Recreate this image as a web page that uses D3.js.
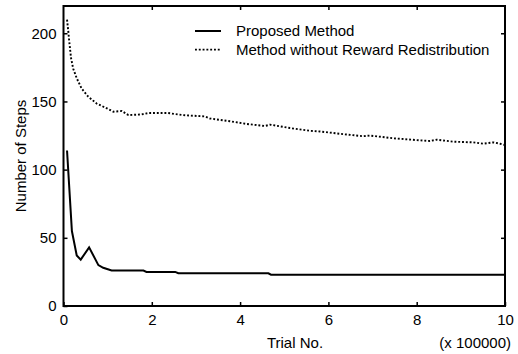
<!DOCTYPE html>
<html>
<head>
<meta charset="utf-8">
<script src="https://cdn.jsdelivr.net/npm/d3@7"></script>
<style>
  body { margin: 0; background: #fff; }
  svg { display: block; font-family: "Liberation Sans", Arial, sans-serif; }
</style>
</head>
<body>
<div id="container"></div>
<script>
// ==================== data ==================== //

// trial number in units of 100000
const proposedX = [0.08, 0.19, 0.30, 0.39, 0.58, 0.79, 0.90, 1.09, 1.81, 1.88, 2.53, 2.60, 4.64, 4.70, 10];
const proposedY = [114, 55, 37, 34, 43, 30, 28, 26, 26, 25, 25, 24, 24, 23, 23];

const noRedistX = [0.08, 0.11, 0.13, 0.17, 0.22, 0.30, 0.41, 0.56, 0.75, 0.98, 1.13, 1.32, 1.47, 1.77, 1.92,
  2.37, 2.71, 3.20, 3.32, 3.77, 4.15, 4.56, 4.68, 5.13, 5.58, 5.81, 6.34, 6.79, 6.94, 7.47,
  8.07, 8.30, 8.45, 8.83, 9.28, 9.51, 9.74, 9.89, 10];
const noRedistY = [210, 201, 194, 182, 174, 167, 159.5, 153.5, 148.5, 145, 142.5, 143, 140, 140.5, 141.5,
  141.5, 140, 139, 137.5, 135.5, 133.5, 132, 133, 130.5, 128.5, 128, 126, 124.5, 125, 123,
  121.5, 121, 122, 120.5, 120, 119, 120, 119, 118];

const xTicks = [0, 2, 4, 6, 8, 10];
const yTicks = [0, 50, 100, 150, 200];
const seriesNames = ["Proposed Method", "Method without Reward Redistribution"];

// ==================== chart ==================== //

const width = 518, height = 354;
const margin = { left: 63.5, right: 13, top: 6, bottom: 48 };
const fontSize = "15px";

const svg = d3.select("#container").append("svg")
  .attr("width", width)
  .attr("height", height);

const x = d3.scaleLinear().domain([0, 10]).range([margin.left, width - margin.right]);
const y = d3.scaleLinear().domain([0, 220]).range([height - margin.bottom, margin.top]);

const tickLen = 4;

// inward ticks on all four sides
svg.append("g")
  .attr("transform", `translate(0,${y(0)})`)
  .call(d3.axisBottom(x).tickValues(xTicks).tickSizeInner(-tickLen).tickSizeOuter(0).tickPadding(8))
  .call(g => g.select(".domain").remove());

svg.append("g")
  .attr("transform", `translate(0,${y(220)})`)
  .call(d3.axisTop(x).tickValues(xTicks.slice(1, -1)).tickSizeInner(-tickLen).tickSizeOuter(0).tickFormat(""))
  .call(g => g.select(".domain").remove());

svg.append("g")
  .attr("transform", `translate(${x(0)},0)`)
  .call(d3.axisLeft(y).tickValues(yTicks).tickSizeInner(-tickLen).tickSizeOuter(0).tickPadding(7))
  .call(g => g.select(".domain").remove());

svg.append("g")
  .attr("transform", `translate(${x(10)},0)`)
  .call(d3.axisRight(y).tickValues(yTicks.slice(1)).tickSizeInner(-tickLen).tickSizeOuter(0).tickFormat(""))
  .call(g => g.select(".domain").remove());

svg.selectAll(".tick line").attr("stroke", "#000").attr("stroke-width", 1.5);
svg.selectAll(".tick text")
  .attr("fill", "#000")
  .style("font-size", fontSize)
  .style("font-family", "Liberation Sans, Arial, sans-serif");

// frame
svg.append("rect")
  .attr("x", x(0))
  .attr("y", y(220))
  .attr("width", x(10) - x(0))
  .attr("height", y(0) - y(220))
  .attr("fill", "none")
  .attr("stroke", "#000")
  .attr("stroke-width", 2);

// lines
const line = d3.line().x(d => x(d[0])).y(d => y(d[1]));

svg.append("path")
  .datum(noRedistX.map((v, i) => [v, noRedistY[i]]))
  .attr("d", line)
  .attr("fill", "none")
  .attr("stroke", "#000")
  .attr("stroke-width", 1.9)
  .attr("stroke-dasharray", "1.9,1.9");

svg.append("path")
  .datum(proposedX.map((v, i) => [v, proposedY[i]]))
  .attr("d", line)
  .attr("fill", "none")
  .attr("stroke", "#000")
  .attr("stroke-width", 2);

// legend
const legend = svg.append("g").attr("transform", "translate(195,31)");
seriesNames.forEach((name, i) => {
  legend.append("line")
    .attr("x1", 0).attr("x2", 26)
    .attr("y1", i * 18.6).attr("y2", i * 18.6)
    .attr("stroke", "#000")
    .attr("stroke-width", i === 0 ? 2 : 1.9)
    .attr("stroke-dasharray", i === 0 ? null : "1.9,1.9");
  legend.append("text")
    .attr("x", 41)
    .attr("y", i * 18.6)
    .attr("dy", "0.35em")
    .style("font-size", fontSize)
    .text(name);
});

// axis labels
svg.append("text")
  .attr("x", 295)
  .attr("y", 343)
  .attr("dy", "0.35em")
  .attr("text-anchor", "middle")
  .style("font-size", fontSize)
  .text("Trial No.");

svg.append("text")
  .attr("x", 511)
  .attr("y", 343)
  .attr("dy", "0.35em")
  .attr("text-anchor", "end")
  .style("font-size", fontSize)
  .text("(x 100000)");

svg.append("text")
  .attr("transform", `translate(21,${(y(0) + y(220)) / 2}) rotate(-90)`)
  .attr("dy", "0.35em")
  .attr("text-anchor", "middle")
  .style("font-size", fontSize)
  .text("Number of Steps");
</script>
</body>
</html>
